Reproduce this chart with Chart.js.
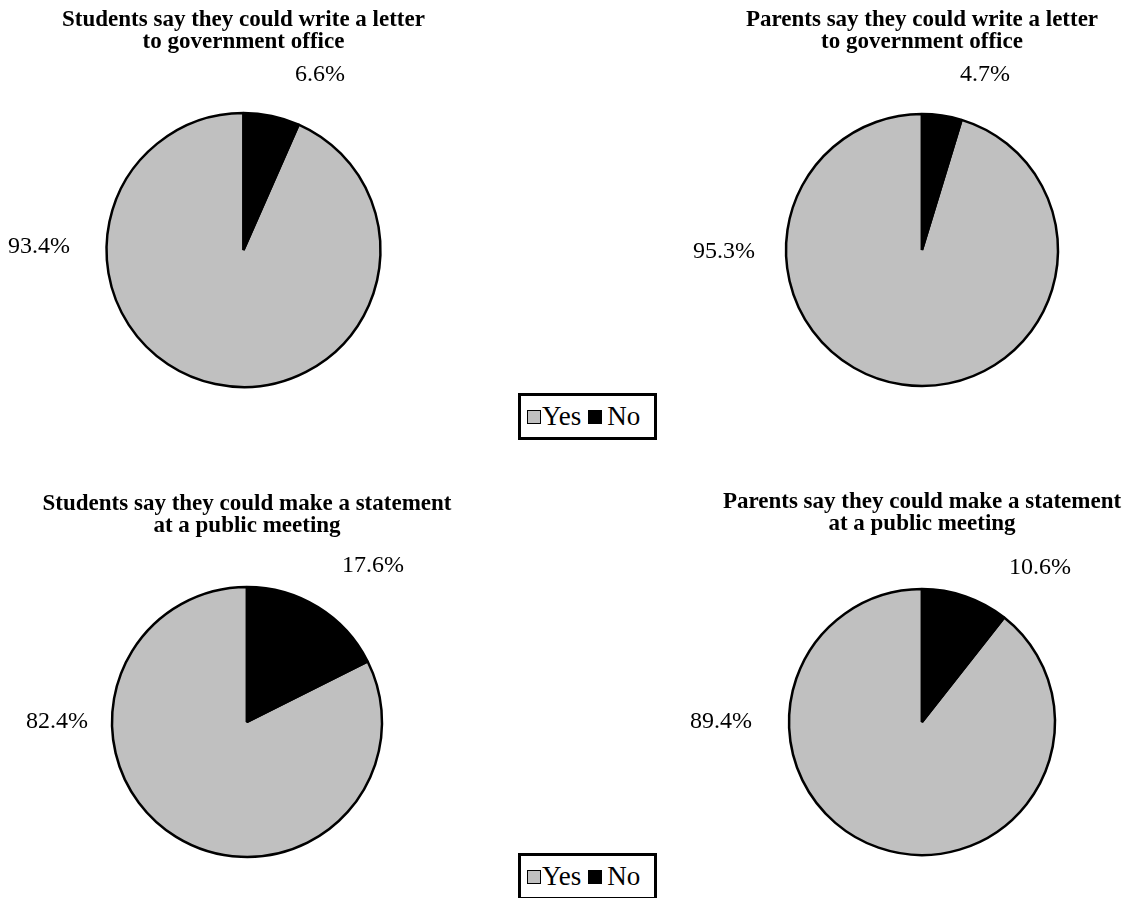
<!DOCTYPE html>
<html>
<head>
<meta charset="utf-8">
<script src="https://cdn.jsdelivr.net/npm/chart.js@4.4.1/dist/chart.umd.min.js"></script>
<style>
  html, body { margin: 0; padding: 0; width: 1133px; height: 898px; overflow: hidden; background: #fff; }
  canvas.pie { position: absolute; left: 0; top: 0; }
  .legend {
    position: absolute; left: 518px; width: 133px; height: 41px;
    border: 3px solid #000; background: #fff;
    display: flex; align-items: center;
    font: 27px "Liberation Serif", "Times New Roman", serif; color: #000;
  }
  .legend .item { display: flex; align-items: center; }
  .legend .sw { width: 12px; height: 12px; border: 1.5px solid #000; margin-left: 6px; margin-right: 1px; }
  .legend .item + .item .sw { margin-left: 7px; margin-right: 5px; }
</style>
</head>
<body>
<canvas class="pie" id="pie0" width="1133" height="1000"></canvas>
<canvas class="pie" id="pie1" width="1133" height="1000"></canvas>
<canvas class="pie" id="pie2" width="1133" height="1000"></canvas>
<canvas class="pie" id="pie3" width="1133" height="1000"></canvas>
<div class="legend" id="legendTop" style="top:393px"></div>
<div class="legend" id="legendBottom" style="top:853px"></div>
<script>
// Answer categories and their colours
const categories = ['Yes', 'No'];
const sliceColors = ['#c0c0c0', '#000000'];

// Panel titles
const chartTitles = [
  ['Students say they could write a letter', 'to government office'],
  ['Parents say they could write a letter', 'to government office'],
  ['Students say they could make a statement', 'at a public meeting'],
  ['Parents say they could make a statement', 'at a public meeting']
];

// Percentages per panel
const yesValues = [93.4, 95.3, 82.4, 89.4];
const noValues = [6.6, 4.7, 17.6, 10.6];

// Panel placement: padding puts each pie where it belongs on the page,
// label offsets are measured from the pie centre ([Yes], [No]).
const panels = [
  { padL: 0,   padR: 646, padB: 563.5, titleTop: 9.5,   radius: 137, offsets: [[-204.5, -3], [76.5, -175]] },
  { padL: 711, padR: 0,   padB: 563.5, titleTop: 9.5,   radius: 136, offsets: [[-198, 2],    [63, -175]] },
  { padL: 0,   padR: 639, padB: 102.9, titleTop: 492.9, radius: 135, offsets: [[-190, 0],    [126, -156]] },
  { padL: 711, padR: 0,   padB: 101.2, titleTop: 491.2, radius: 133, offsets: [[-201, 0],    [118, -154]] }
];

const SERIF = '"Liberation Serif", "Times New Roman", serif';

// Draws the percentage of every slice next to the pie
const sliceLabels = {
  id: 'sliceLabels',
  afterDatasetsDraw(chart, args, opts) {
    const meta = chart.getDatasetMeta(0);
    const first = meta.data[0];
    if (!first) return;
    const cx = first.x, cy = first.y;
    const ctx = chart.ctx;
    ctx.save();
    ctx.font = '24px ' + SERIF;
    ctx.fillStyle = '#000';
    ctx.textAlign = 'center';
    ctx.textBaseline = 'middle';
    chart.data.datasets[0].data.forEach((v, i) => {
      const [dx, dy] = opts.offsets[i];
      ctx.fillText(v.toFixed(1) + '%', cx + dx, cy + dy);
    });
    ctx.restore();
  }
};

panels.forEach((p, i) => {
  new Chart(document.getElementById('pie' + i), {
    type: 'pie',
    data: {
      labels: categories,
      datasets: [{
        data: [yesValues[i], noValues[i]],
        backgroundColor: sliceColors,
        borderColor: '#000',
        borderWidth: 2.5
      }]
    },
    plugins: [sliceLabels],
    options: {
      responsive: false,
      animation: false,
      events: [],
      // the "No" slice starts at twelve o'clock and runs clockwise
      rotation: noValues[i] * 3.6,
      radius: p.radius,
      layout: { padding: { left: p.padL, right: p.padR, top: 0, bottom: p.padB } },
      plugins: {
        legend: { display: false },
        tooltip: { enabled: false },
        title: {
          display: true,
          text: chartTitles[i],
          color: '#000',
          font: { family: SERIF, size: 23, weight: 'bold', lineHeight: 22 / 23 },
          padding: { top: p.titleTop, bottom: 10 }
        },
        sliceLabels: { offsets: p.offsets }
      }
    }
  });
});

// Legend boxes built from the categories and colours
['legendTop', 'legendBottom'].forEach(id => {
  const box = document.getElementById(id);
  categories.forEach((c, k) => {
    const item = document.createElement('div');
    item.className = 'item';
    const sw = document.createElement('span');
    sw.className = 'sw';
    sw.style.background = sliceColors[k];
    const tx = document.createElement('span');
    tx.textContent = c;
    item.appendChild(sw);
    item.appendChild(tx);
    box.appendChild(item);
  });
});
</script>
</body>
</html>
